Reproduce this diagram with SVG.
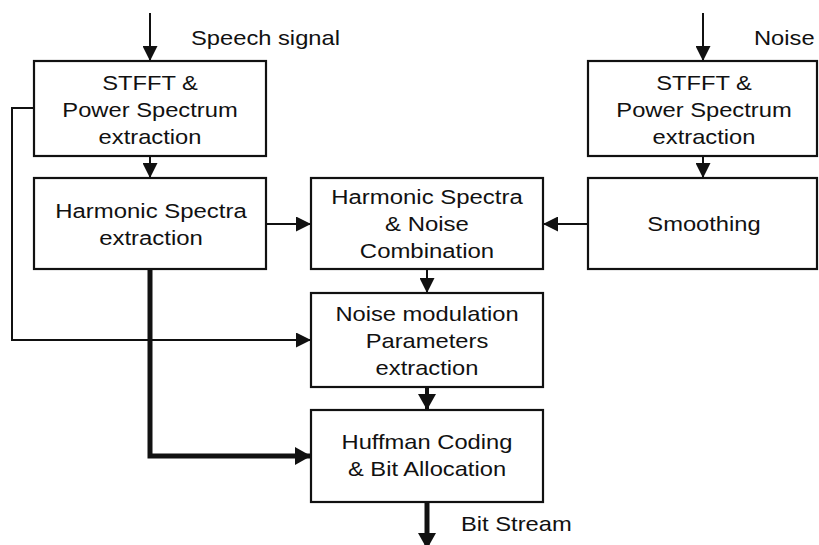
<svg xmlns="http://www.w3.org/2000/svg" width="819" height="545" viewBox="0 0 819 545">
  <style>
    .box { fill: #fff; stroke: #111; stroke-width: 2.2; }
    .t { font-family: "Liberation Sans", Arial, Helvetica, sans-serif; font-size: 21px; fill: #111; text-anchor: middle; }
    .ts { font-family: "Liberation Sans", Arial, Helvetica, sans-serif; font-size: 21px; fill: #111; text-anchor: start; }
    .c { fill: none; stroke: #111; stroke-width: 2; }
    .ck { fill: none; stroke: #111; stroke-width: 5; }
    .cm { fill: none; stroke: #111; stroke-width: 4; }
  </style>
  <defs>
    <marker id="ah" markerUnits="userSpaceOnUse" markerWidth="15" markerHeight="15" refX="15" refY="7.5" orient="auto" viewBox="0 0 15 15">
      <path d="M0,0 L15,7.5 L0,15 z" fill="#111"/>
    </marker>
    <marker id="ahL" markerUnits="userSpaceOnUse" markerWidth="16" markerHeight="18" refX="16" refY="9" orient="auto" viewBox="0 0 16 18">
      <path d="M0,0 L16,9 L0,18 z" fill="#111"/>
    </marker>
  </defs>
  <rect width="819" height="545" fill="#fff"/>

  <g id="connectors">
    <line class="c" x1="150" y1="13" x2="150" y2="61" marker-end="url(#ah)"/>
    <line class="c" x1="703" y1="13" x2="703" y2="61" marker-end="url(#ah)"/>
    <line class="c" x1="150" y1="156" x2="150" y2="178" marker-end="url(#ah)"/>
    <line class="c" x1="703" y1="156" x2="703" y2="178" marker-end="url(#ah)"/>
    <line class="c" x1="266" y1="224" x2="311" y2="224" marker-end="url(#ah)"/>
    <line class="c" x1="588" y1="224" x2="543" y2="224" marker-end="url(#ah)"/>
    <line class="c" x1="427" y1="269" x2="427" y2="293" marker-end="url(#ah)"/>
    <polyline class="c" points="34,108 12,108 12,340 311,340" marker-end="url(#ah)"/>
    <polyline class="ck" points="150,269 150,456 311,456" marker-end="url(#ahL)"/>
    <line class="cm" x1="427" y1="387" x2="427" y2="410" marker-end="url(#ahL)"/>
    <line class="ck" x1="427" y1="502" x2="427" y2="549" marker-end="url(#ahL)"/>
  </g>

  <g id="label-speech">
    <g transform="translate(191,0) scale(1.13,1)"><text class="ts" x="0" y="45">Speech signal</text></g>
  </g>
  <g id="label-noise">
    <g transform="translate(754,0) scale(1.13,1)"><text class="ts" x="0" y="45">Noise</text></g>
  </g>
  <g id="label-bitstream">
    <g transform="translate(461,0) scale(1.13,1)"><text class="ts" x="0" y="531">Bit Stream</text></g>
  </g>

  <g id="stfft-speech">
    <rect class="box" x="34" y="61" width="232" height="95"/>
    <g transform="translate(150,0) scale(1.13,1)">
      <text class="t" x="0" y="90">STFFT &amp;</text>
      <text class="t" x="0" y="117">Power Spectrum</text>
      <text class="t" x="0" y="144">extraction</text>
    </g>
  </g>

  <g id="harmonic-extraction">
    <rect class="box" x="34" y="178" width="232" height="91"/>
    <g transform="translate(151,0) scale(1.14,1)">
      <text class="t" x="0" y="218">Harmonic Spectra</text>
      <text class="t" x="0" y="245">extraction</text>
    </g>
  </g>

  <g id="combination">
    <rect class="box" x="311" y="178" width="232" height="91"/>
    <g transform="translate(427,0) scale(1.14,1)">
      <text class="t" x="0" y="204">Harmonic Spectra</text>
      <text class="t" x="0" y="231">&amp; Noise</text>
      <text class="t" x="0" y="258">Combination</text>
    </g>
  </g>

  <g id="stfft-noise">
    <rect class="box" x="588" y="61" width="229" height="95"/>
    <g transform="translate(704,0) scale(1.13,1)">
      <text class="t" x="0" y="90">STFFT &amp;</text>
      <text class="t" x="0" y="117">Power Spectrum</text>
      <text class="t" x="0" y="144">extraction</text>
    </g>
  </g>

  <g id="smoothing">
    <rect class="box" x="588" y="178" width="229" height="91"/>
    <g transform="translate(704,0) scale(1.13,1)">
      <text class="t" x="0" y="231">Smoothing</text>
    </g>
  </g>

  <g id="noise-modulation">
    <rect class="box" x="311" y="293" width="232" height="94"/>
    <g transform="translate(427,0) scale(1.13,1)">
      <text class="t" x="0" y="321">Noise modulation</text>
      <text class="t" x="0" y="348">Parameters</text>
      <text class="t" x="0" y="375">extraction</text>
    </g>
  </g>

  <g id="huffman">
    <rect class="box" x="311" y="410" width="232" height="92"/>
    <g transform="translate(427,0) scale(1.13,1)">
      <text class="t" x="0" y="449">Huffman Coding</text>
      <text class="t" x="0" y="476">&amp; Bit Allocation</text>
    </g>
  </g>
</svg>
